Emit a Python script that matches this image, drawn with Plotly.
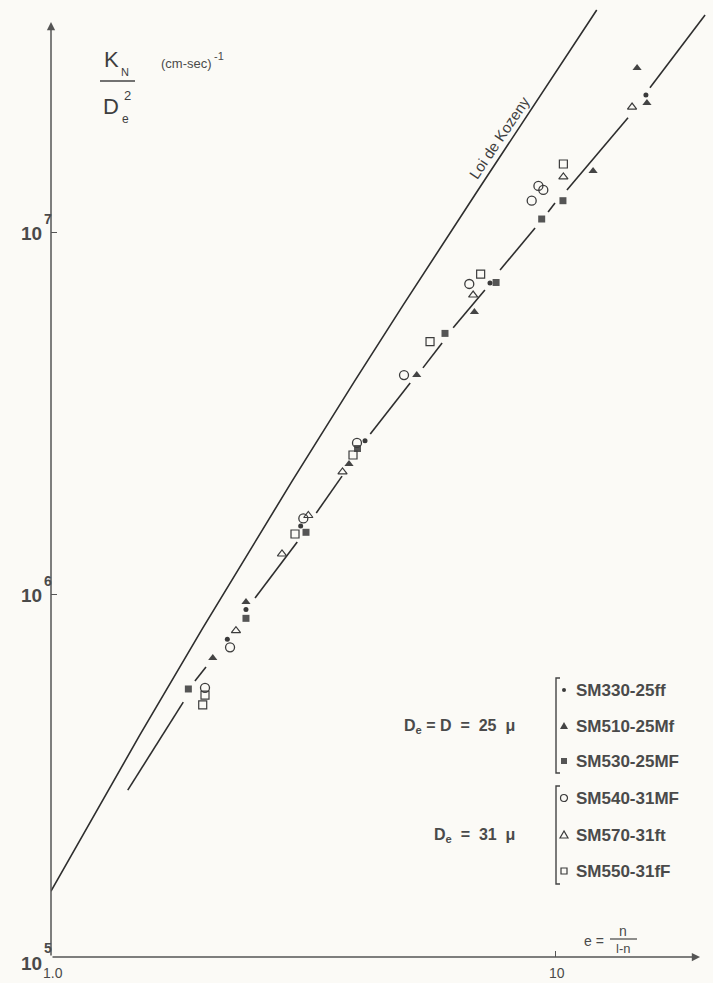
import math
import plotly.graph_objects as go

# ---------------------------------------------------------------- data
# Kozeny law (theoretical curve)
kozeny_e = [1.0, 1.5, 2.0, 3.0, 4.0, 5.0, 7.0, 10.0, 12.1]
kozeny_k = [1.52e5, 4.1e5, 8.1e5, 2.05e6, 3.89e6, 6.33e6, 1.30e7, 2.77e7, 4.13e7]

# experimental trend line, interrupted around the measured points
fit_e = [1.42, 1.83, None, 1.93, 2.03, None, 2.54, 3.08, None, 3.36, 3.78, None,
         4.30, 5.16, None, 5.47, 5.97, None, 6.28, 7.26, None, 7.78, 9.13, None,
         9.69, 10.0, None, 10.56, 13.96, None, 15.43, 19.85]
fit_k = [2.89e5, 5.06e5, None, 5.79e5, 6.33e5, None, 9.81e5, 1.40e6, None, 1.685e6, 2.13e6, None,
         2.785e6, 3.85e6, None, 4.24e6, 4.97e6, None, 5.47e6, 6.96e6, None, 7.90e6, 1.032e7, None,
         1.143e7, 1.21e7, None, 1.315e7, 2.08e7, None, 2.52e7, 4.0e7]

# D_e = D = 25 micron
sm330_e = [2.238, 2.437, 3.129, 4.198, 7.43, 15.15]
sm330_k = [7.55e5, 9.12e5, 1.551e6, 2.668e6, 7.28e6, 2.405e7]

sm510_e = [2.094, 2.437, 3.902, 5.317, 6.92, 11.9, 14.55, 15.22]
sm510_k = [6.70e5, 9.56e5, 2.30e6, 4.05e6, 6.05e6, 1.484e7, 2.857e7, 2.287e7]

sm530_e = [1.873, 2.437, 3.206, 4.057, 6.05, 7.64, 9.41, 10.37]
sm530_k = [5.50e5, 8.62e5, 1.490e6, 2.539e6, 5.28e6, 7.30e6, 1.093e7, 1.228e7]

# D_e = 31 micron
sm540_e = [2.021, 2.266, 3.167, 4.047, 5.017, 6.76, 8.99, 9.27, 9.48]
sm540_k = [5.54e5, 7.17e5, 1.627e6, 2.63e6, 4.05e6, 7.23e6, 1.228e7, 1.349e7, 1.315e7]

sm570_e = [2.328, 2.873, 3.240, 3.788, 6.88, 10.39, 14.22]
sm570_k = [7.97e5, 1.298e6, 1.658e6, 2.187e6, 6.74e6, 1.428e7, 2.228e7]

sm550_e = [2.021, 2.0, 3.049, 3.974, 5.65, 7.12, 10.39]
sm550_k = [5.29e5, 4.97e5, 1.474e6, 2.436e6, 5.01e6, 7.70e6, 1.551e7]

x_tick_vals = [1, 10]
x_tick_text = ["1.0", "10"]
y_tick_exps = [5, 6, 7]

# ---------------------------------------------------------------- geometry
W, H = 713, 983
ML, MB = 51, 26
PW, PH = W - ML, H - MB
X_RANGE = [0.0, 1.3135]
Y_RANGE = [5.0, 7.6436]

BG = "#fbfaf6"
INK = "#2e2e2e"
TXT = "#4a4a4a"
FONT = "Liberation Sans, Arial, sans-serif"


def pp(x, y):
    """pixel position -> paper coordinates"""
    return (x - ML) / PW, (H - MB - y) / PH


fig = go.Figure()

fig.add_trace(go.Scatter(x=kozeny_e, y=kozeny_k, mode="lines",
                         line=dict(color=INK, width=1.6), hoverinfo="skip"))
fig.add_trace(go.Scatter(x=fit_e, y=fit_k, mode="lines", connectgaps=False,
                         line=dict(color=INK, width=1.6), hoverinfo="skip"))

series = [
    (sm330_e, sm330_k, "circle", 5, "#3a3a3a", None),
    (sm510_e, sm510_k, "triangle-up", 8, "#444444", None),
    (sm530_e, sm530_k, "square", 7, "#555555", None),
    (sm540_e, sm540_k, "circle-open", 9, "#3c3c3c", 1.3),
    (sm570_e, sm570_k, "triangle-up-open", 8, "#3c3c3c", 1.2),
    (sm550_e, sm550_k, "square-open", 8, "#3c3c3c", 1.2),
]
for xs, ys, sym, size, col, lw in series:
    mk = dict(symbol=sym, size=size, color=col)
    if lw:
        mk["line"] = dict(color=col, width=lw)
    else:
        mk["line"] = dict(width=0)
    fig.add_trace(go.Scatter(x=xs, y=ys, mode="markers", marker=mk, hoverinfo="skip"))

annotations = []
shapes = []


def text(x, y, s, size, xanchor="center", angle=0, bold=False, color=TXT):
    px, py = pp(x, y)
    if bold:
        s = "<b>" + s + "</b>"
    annotations.append(dict(x=px, y=py, xref="paper", yref="paper", text=s,
                            showarrow=False, xanchor=xanchor, yanchor="middle",
                            textangle=angle,
                            font=dict(family=FONT, size=size, color=color)))


def seg(x0, y0, x1, y1, width=1.4, color=INK):
    a0, b0 = pp(x0, y0)
    a1, b1 = pp(x1, y1)
    shapes.append(dict(type="line", xref="paper", yref="paper", x0=a0, y0=b0,
                       x1=a1, y1=b1, line=dict(color=color, width=width)))


# axes with arrow heads
annotations.append(dict(x=math.log10(19.4), y=5, ax=0, ay=5, xref="x", yref="y",
                        axref="x", ayref="y", text="", showarrow=True, arrowhead=2,
                        arrowsize=1.1, arrowwidth=1.5, arrowcolor="#555555"))
annotations.append(dict(x=0, y=7.583, ax=0, ay=5, xref="x", yref="y",
                        axref="x", ayref="y", text="", showarrow=True, arrowhead=2,
                        arrowsize=1.1, arrowwidth=1.5, arrowcolor="#555555"))

# tick labels
for v, t in zip(x_tick_vals, x_tick_text):
    xpx = ML + PW * (math.log10(v) - X_RANGE[0]) / (X_RANGE[1] - X_RANGE[0])
    text(xpx + 2, 973, t, 14)
for e in y_tick_exps:
    ypx = (H - MB) - PH * (e - Y_RANGE[0]) / (Y_RANGE[1] - Y_RANGE[0])
    dy = 6 if e == 5 else 1
    text(44, ypx + dy, "10", 19, xanchor="right", bold=True)
    text(42, ypx + dy - 15, str(e), 14, xanchor="left", bold=True)

# y-axis quantity: K_N / D_e^2  (cm-sec)^-1
text(111, 60, "K", 22, color="#3e3e3e")
text(125, 72, "N", 11, color="#3e3e3e")
seg(100, 81, 135, 81, width=1.6, color="#444444")
text(111, 107, "D", 22, color="#3e3e3e")
text(127, 95, "2", 13, color="#3e3e3e")
text(125, 119, "e", 12, color="#3e3e3e")
text(186, 64, "(cm-sec)", 13)
text(219, 56, "-1", 11)

# x-axis quantity: e = n / (1-n)
text(594, 941, "e =", 14)
text(623, 931, "n", 14)
seg(610, 939, 637, 939, width=1.2, color="#444444")
text(623, 948, "l-n", 13)

# curve label
text(499, 137, "Loi de Kozeny", 15, angle=-56, color="#3e3e3e")

# sample key
text(517, 726, "D<sub>e</sub> = D  =  25  μ", 16, xanchor="right", bold=True)
text(517, 835, "D<sub>e</sub>  =  31  μ", 16, xanchor="right", bold=True)

groups = [
    (678, 773, [(690, "SM330-25ff", "dot"), (726, "SM510-25Mf", "tri"),
                (761, "SM530-25MF", "sq")]),
    (786, 884, [(798, "SM540-31MF", "ocirc"), (835, "SM570-31ft", "otri"),
                (871, "SM550-31fF", "osq")]),
]
BX, MX, TX = 556, 564, 574
for top, bot, items in groups:
    a0, b0 = pp(BX + 4, top)
    a1, b1 = pp(BX, top)
    a2, b2 = pp(BX, bot)
    a3, b3 = pp(BX + 4, bot)
    shapes.append(dict(type="path", xref="paper", yref="paper",
                       path=f"M {a0},{b0} L {a1},{b1} L {a2},{b2} L {a3},{b3}",
                       line=dict(color="#444444", width=1.4)))
    for y, label, kind in items:
        text(TX, y, label, 17, xanchor="left", bold=True)
        if kind in ("dot", "ocirc"):
            r = 2 if kind == "dot" else 3.5
            x0, y0 = pp(MX - r, y + r)
            x1, y1 = pp(MX + r, y - r)
            shapes.append(dict(type="circle", xref="paper", yref="paper",
                               x0=x0, y0=y0, x1=x1, y1=y1,
                               fillcolor="#3a3a3a" if kind == "dot" else "rgba(0,0,0,0)",
                               line=dict(color="#3a3a3a", width=0 if kind == "dot" else 1.2)))
        elif kind in ("sq", "osq"):
            r = 3
            x0, y0 = pp(MX - r, y + r)
            x1, y1 = pp(MX + r, y - r)
            shapes.append(dict(type="rect", xref="paper", yref="paper",
                               x0=x0, y0=y0, x1=x1, y1=y1,
                               fillcolor="#555555" if kind == "sq" else "rgba(0,0,0,0)",
                               line=dict(color="#3a3a3a", width=0 if kind == "sq" else 1.2)))
        else:
            p1 = pp(MX, y - 4)
            p2 = pp(MX - 4, y + 3)
            p3 = pp(MX + 4, y + 3)
            shapes.append(dict(type="path", xref="paper", yref="paper",
                               path=f"M {p1[0]},{p1[1]} L {p2[0]},{p2[1]} L {p3[0]},{p3[1]} Z",
                               fillcolor="#444444" if kind == "tri" else "rgba(0,0,0,0)",
                               line=dict(color="#3a3a3a", width=0 if kind == "tri" else 1.2)))

fig.update_layout(
    width=W, height=H,
    margin=dict(l=ML, r=0, t=0, b=MB, pad=0),
    paper_bgcolor=BG, plot_bgcolor=BG,
    showlegend=False,
    annotations=annotations,
    shapes=shapes,
    xaxis=dict(type="log", range=X_RANGE, showgrid=False, zeroline=False,
               showline=False, ticks="inside", tickvals=x_tick_vals, ticklen=6,
               tickwidth=1.3, tickcolor="#555555", showticklabels=False),
    yaxis=dict(type="log", range=Y_RANGE, showgrid=False, zeroline=False,
               showline=False, ticks="inside", tickvals=[10 ** e for e in y_tick_exps],
               ticklen=6, tickwidth=1.3, tickcolor="#555555", showticklabels=False),
)

fig.write_html("out.html")
